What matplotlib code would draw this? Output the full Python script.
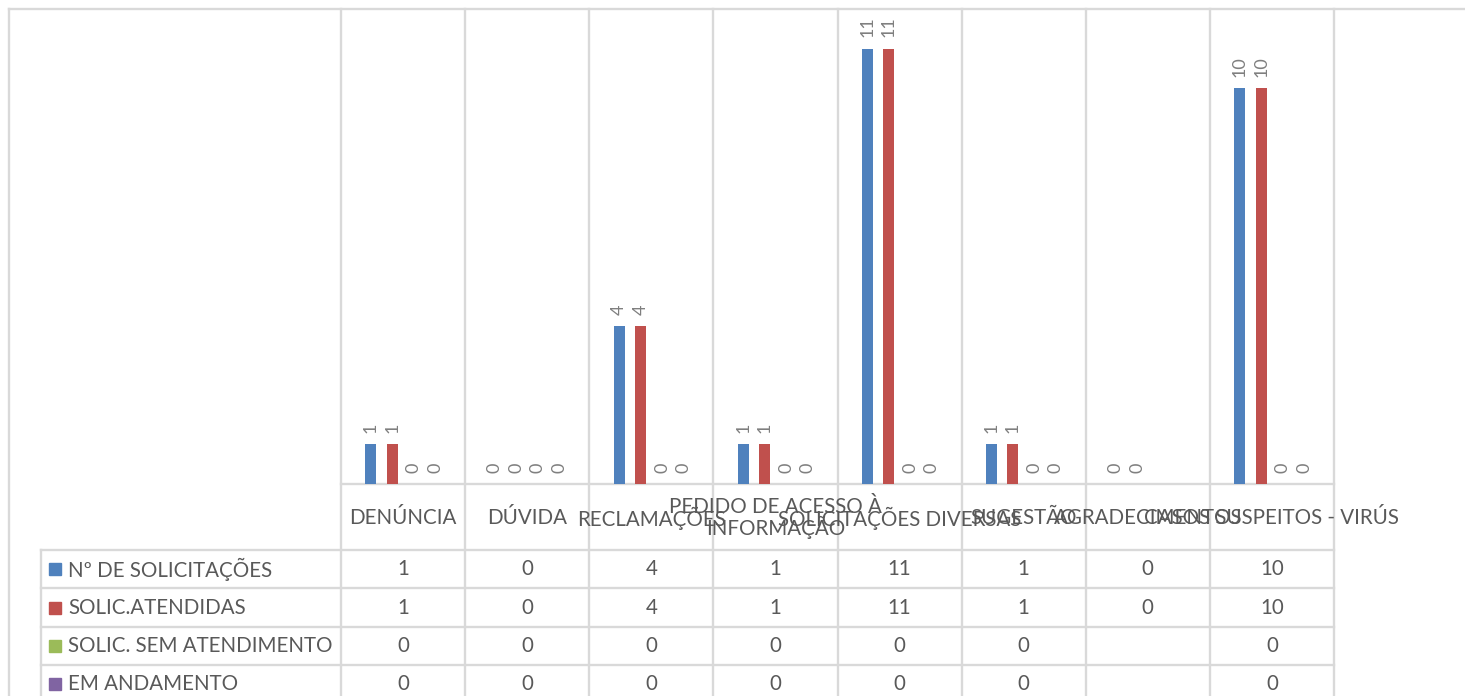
import numpy as np
import matplotlib.pyplot as plt
from matplotlib.patches import Rectangle

plt.rcParams['font.family'] = ['Lato', 'DejaVu Sans']

categorias = ['DENÚNCIA', 'DÚVIDA', 'RECLAMAÇÕES', 'PEDIDO DE ACESSO À\nINFORMAÇÃO',
              'SOLICITAÇÕES DIVERSAS', 'SUGESTÃO', 'AGRADECIMENTOS',
              'CASOS SUSPEITOS - VIRÚS']
series = ['Nº DE SOLICITAÇÕES', 'SOLIC.ATENDIDAS', 'SOLIC. SEM ATENDIMENTO', 'EM ANDAMENTO']
n_solicitacoes = [1, 0, 4, 1, 11, 1, 0, 10]
solic_atendidas = [1, 0, 4, 1, 11, 1, 0, 10]
sem_atendimento = [0, 0, 0, 0, 0, 0, None, 0]
em_andamento = [0, 0, 0, 0, 0, 0, None, 0]
cores = ['#4F81BD', '#C0504D', '#9BBB59', '#8064A2']

valores = [n_solicitacoes, solic_atendidas, sem_atendimento, em_andamento]

W, H = 1465, 696
fig = plt.figure(figsize=(W / 100, H / 100), dpi=100)

# layout em pixels
esq, dir_, topo, base = 341, 1334, 9, 484
linhas_tab = [550, 588, 627, 665, 703]
x_legenda, x_moldura = 41, 9
cor_grade = '#D9D9D9'
cor_texto = '#595959'
cor_rotulo = '#7F7F7F'
fs = 14.8

# camada de fundo para a grade e a tabela de dados
bg = fig.add_axes([0, 0, 1, 1], zorder=0)
bg.set_xlim(0, W)
bg.set_ylim(H, 0)
bg.axis('off')

ax = fig.add_axes([esq / W, (H - base) / H, (dir_ - esq) / W, (base - topo) / H], zorder=1)
ax.patch.set_alpha(0)
n = len(categorias)
ax.set_xlim(-0.5, n - 0.5)
ax.set_ylim(0, 12)
ax.axis('off')

passo = 0.173
largura = 0.089
x = np.arange(n)
for k, (vals, cor) in enumerate(zip(valores, cores)):
    desloc = (k - 1.5) * passo
    v = np.array([np.nan if a is None else a for a in vals], dtype=float)
    ax.bar(x + desloc, np.nan_to_num(v), largura, color=cor, zorder=2)
    for xi, val in zip(x, vals):
        if val is None:
            continue
        ax.annotate(str(val), (xi + desloc, val), xytext=(0, 8), textcoords='offset points',
                    rotation=90, ha='center', va='bottom', fontsize=13, color=cor_rotulo)

# linhas da grade / tabela
lw = 1.7
bg.plot([x_moldura, W], [topo, topo], color=cor_grade, lw=lw)
bg.plot([x_moldura, x_moldura], [topo, H], color=cor_grade, lw=lw)
colw = (dir_ - esq) / n
for i in range(n + 1):
    xv = esq + i * colw
    bg.plot([xv, xv], [topo, H], color=cor_grade, lw=lw)
bg.plot([esq, dir_], [base, base], color=cor_grade, lw=lw)
for yl in linhas_tab[:-1]:
    bg.plot([x_legenda, dir_], [yl, yl], color=cor_grade, lw=lw)
bg.plot([x_legenda, x_legenda], [linhas_tab[0], H], color=cor_grade, lw=lw)

# rótulos das categorias
for i, cat in enumerate(categorias):
    cx = esq + (i + 0.5) * colw
    bg.text(cx, (base + linhas_tab[0]) / 2 + 1, cat, ha='center', va='center',
            fontsize=fs, color=cor_texto, linespacing=0.95, multialignment='center')

# linhas da tabela de dados com legenda
for r, (nome, vals, cor) in enumerate(zip(series, valores, cores)):
    yc = (linhas_tab[r] + linhas_tab[r + 1]) / 2
    bg.add_patch(Rectangle((49, yc - 6), 12, 12, color=cor))
    bg.text(68, yc, nome, ha='left', va='center', fontsize=fs, color=cor_texto)
    for i, val in enumerate(vals):
        if val is None:
            continue
        cx = esq + (i + 0.5) * colw
        bg.text(cx, yc, str(val), ha='center', va='center', fontsize=fs, color=cor_texto)

fig.savefig('out.png', dpi=100, facecolor='white')
